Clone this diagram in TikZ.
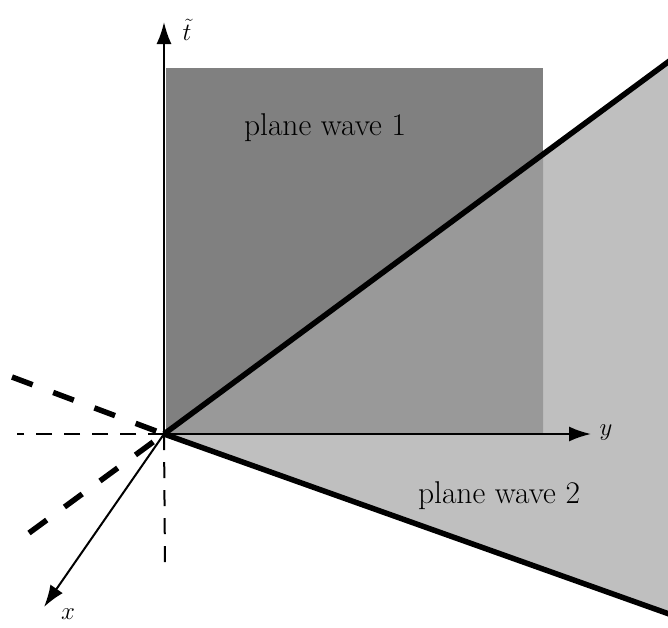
\documentclass[tikz,border=0pt]{standalone}
\usetikzlibrary{arrows.meta}
\begin{document}
\begin{tikzpicture}[x=1pt,y=-1pt,
  axis/.style={line width=2pt,-{Latex[length=22pt,width=15pt]}},
  wavefront/.style={line width=5.5pt},
  thindash/.style={line width=2pt,dash pattern=on 16pt off 12pt},
  thickdash/.style={line width=5.5pt,dash pattern=on 22pt off 22pt},
  lbl/.style={font=\fontsize{31.5}{38}\selectfont,inner sep=0pt}]
\useasboundingbox (0,0) rectangle (668,627);
\coordinate (O) at (164,434);
\coordinate (U) at (700,38.4);
\coordinate (L) at (700,625);
\coordinate (Ul) at (12,377);
\coordinate (Ll) at (29,533);
\coordinate (H) at (17,434);
\coordinate (V) at (165,566);
\coordinate (T) at (164,22);
\coordinate (Y) at (591,434);
\coordinate (X) at (44,607);
\begin{scope}
\clip (0,0) rectangle (668,627);
\fill[black!25] (O) -- (U) -- (L) -- cycle;
\fill[black!50] (166,68) rectangle (543,434);
\fill[black!40] (O) -- (543,154.3) -- (543,434) -- cycle;
\draw[wavefront] (O) -- (U);
\draw[wavefront] (O) -- (L);
\end{scope}
\draw[thickdash] (Ul) -- (O);
\draw[thickdash] (Ll) -- (O);
\draw[thindash] (O) -- (H);
\draw[thindash] (O) -- (V);
\draw[axis] (O) -- (T);
\draw[axis] (O) -- (Y);
\draw[axis] (O) -- (X);
\node[lbl] (tl) at (187,30) {$\tilde t$};
\node[lbl] (yl) at (606,433) {$y$};
\node[lbl] (xl) at (68,614) {$x$};
\node[lbl] (p1) at (325,128) {plane wave 1};
\node[lbl] (p2) at (499,496) {plane wave 2};
\end{tikzpicture}
\end{document}
